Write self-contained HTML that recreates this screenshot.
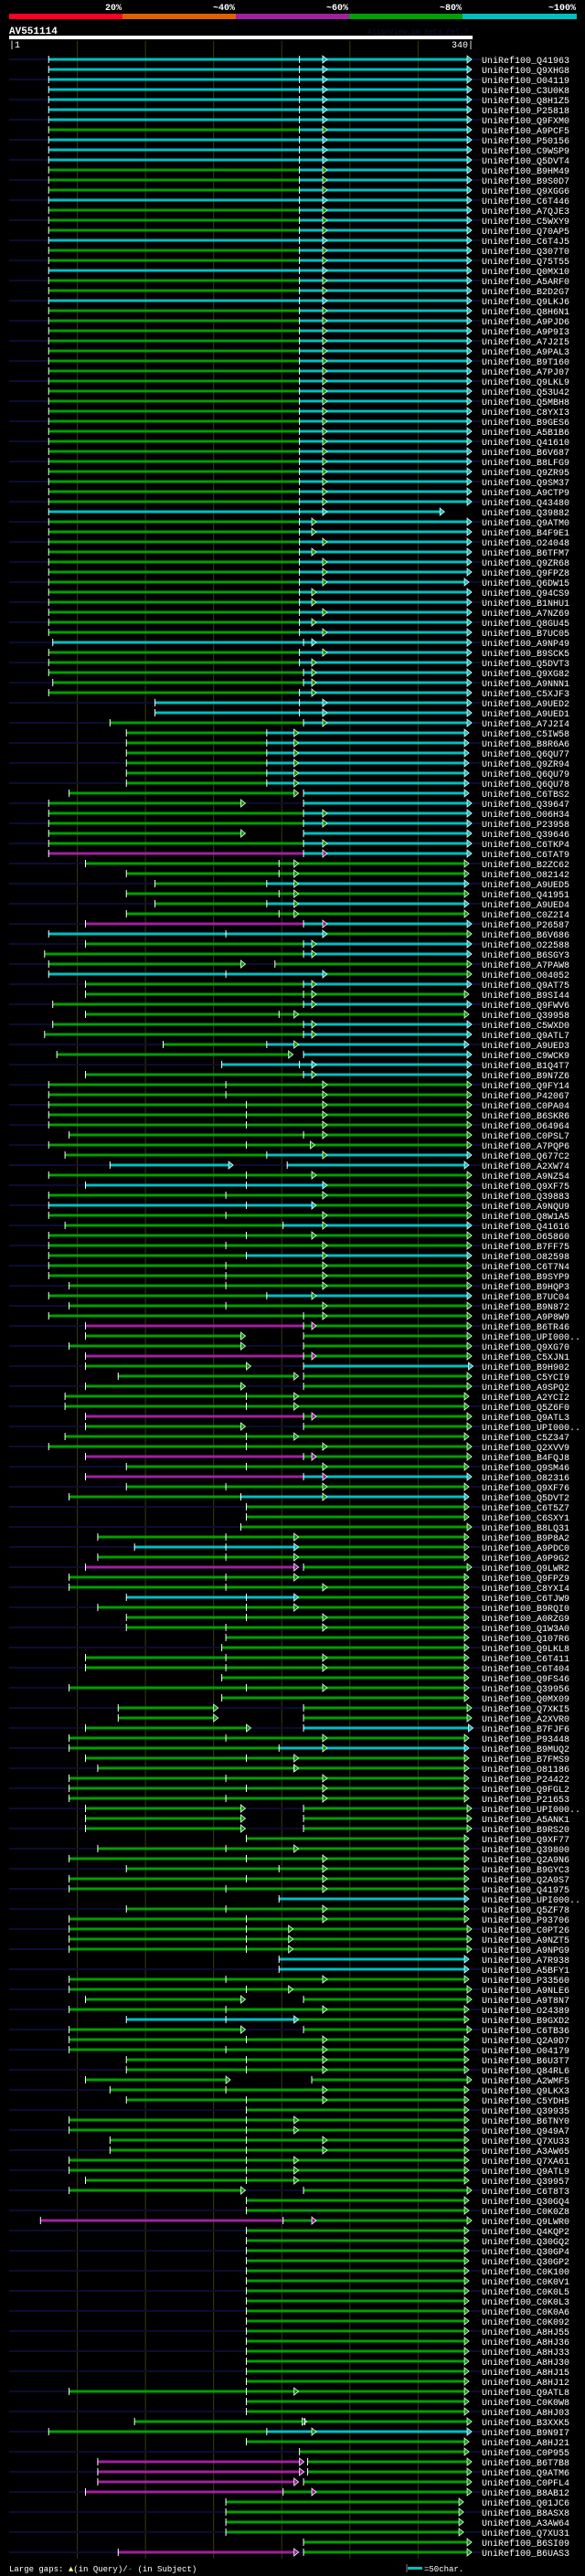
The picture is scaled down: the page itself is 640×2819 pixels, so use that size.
<!DOCTYPE html>
<html><head><meta charset="utf-8">
<style>
html,body{margin:0;padding:0;background:#000;}
svg{display:block;}
text{font-family:"Liberation Mono",monospace;}
</style></head>
<body>
<svg id="chart" width="640" height="2819" viewBox="0 0 640 2819" xmlns="http://www.w3.org/2000/svg">
<rect x="0" y="0" width="640" height="2819" fill="#000"/>
<g id="scale">
<rect x="10" y="15" width="124" height="6" fill="#ff0022"/>
<rect x="134" y="15" width="124" height="6" fill="#e06000"/>
<rect x="258" y="15" width="124" height="6" fill="#a020a0"/>
<rect x="382" y="15" width="124" height="6" fill="#00a000"/>
<rect x="506" y="15" width="125" height="6" fill="#00c0c0"/>
<text x="133" y="11" fill="#fff" font-size="10" font-weight="bold" text-anchor="end">20%</text>
<text x="257" y="11" fill="#fff" font-size="10" font-weight="bold" text-anchor="end">~40%</text>
<text x="381" y="11" fill="#fff" font-size="10" font-weight="bold" text-anchor="end">~60%</text>
<text x="505" y="11" fill="#fff" font-size="10" font-weight="bold" text-anchor="end">~80%</text>
<text x="630" y="11" fill="#fff" font-size="10" font-weight="bold" text-anchor="end">~100%</text>
</g>
<text x="10" y="37" fill="#fff" font-size="11" font-weight="bold">AV551114</text>
<text x="402" y="37" fill="#101040" font-size="8">AlignView.pm Beta rel.7</text>
<rect x="10" y="39" width="507" height="4" fill="#fff"/>
<text x="10" y="52" fill="#fff" font-size="10">|1</text>
<text x="518" y="52" fill="#fff" font-size="10" text-anchor="end">340|</text>
<g id="grid"></g>
<g id="rows"></g>
<text x="10" y="2814" fill="#fff" font-size="9">Large gaps: <tspan fill="#ffff80">▲</tspan>(in Query)/<tspan fill="#00c0c0">-</tspan> (in Subject)</text>
<line x1="445" y1="2806" x2="445" y2="2815" stroke="#808080" stroke-width="1"/>
<rect x="446" y="2809" width="16" height="3" fill="#00c0c0"/>
<text x="464" y="2814" fill="#fff" font-size="9">=50char.</text>
</svg>
<script>
const queryLength = 340;
const gridTicks = [50,100,150,200,250,300];
const labels = ["Q41963","Q9XHG8","O04119","C3U0K8","Q8H1Z5","P25818","Q9FXM0","A9PCF5","P50156","C9WSP9",
"Q5DVT4","B9HM49","B9S0D7","Q9XGG6","C6T446","A7QJE3","C5WXY9","Q70AP5","C6T4J5","Q307T0",
"Q75T55","Q0MX10","A5ARF0","B2D2G7","Q9LKJ6","Q8H6N1","A9PJD6","A9P9I3","A7J2I5","A9PAL3",
"B9T160","A7PJ07","Q9LKL9","Q53U42","Q5MBH8","C8YXI3","B9GES6","A5B1B6","Q41610","B6V687",
"B8LFG9","Q9ZR95","Q9SM37","A9CTP9","Q43480","Q39882","Q9ATM0","B4F9E1","O24048","B6TFM7",
"Q9ZR68","Q9FPZ8","Q6DW15","Q94CS9","B1NHU1","A7NZ69","Q8GU45","B7UC05","A9NP49","B9SCK5",
"Q5DVT3","Q9XG82","A9NNN1","C5XJF3","A9UED2","A9UED1","A7J2I4","C5IW58","B8R6A6","Q6QU77",
"Q9ZR94","Q6QU79","Q6QU78","C6TBS2","Q39647","O06H34","P23958","Q39646","C6TKP4","C6TAT9",
"B2ZC62","O82142","A9UED5","Q41951","A9UED4","C0Z2I4","P26587","B6V686","O22588","B6SGY3",
"A7PAW8","O04052","Q9AT75","B9SI44","Q9FWV6","Q39958","C5WXD0","Q9ATL7","A9UED3","C9WCK9",
"B1Q4T7","B9N7Z6","Q9FY14","P42067","C0PA04","B6SKR6","O64964","C0PSL7","A7PQP6","Q677C2",
"A2XW74","A9NZ54","Q9XF75","Q39883","A9NQU9","Q8W1A5","Q41616","O65860","B7FF75","O82598",
"C6T7N4","B9SYP9","B9HQP3","B7UC04","B9N872","A9P8W9","B6TR46","UPI000..","Q9XG70","C5XJN1",
"B9H902","C5YCI9","A9SPQ2","A2YCI2","Q5Z6F0","Q9ATL3","UPI000..","C5Z347","Q2XVV9","B4FQJ8",
"Q9SM46","O82316","Q9XF76","Q5DVT2","C6T5Z7","C6SXY1","B8LQ31","B9P8A2","A9PDC0","A9P9G2",
"Q9LWR2","Q9FPZ9","C8YXI4","C6TJW9","B9RQI0","A0RZG9","Q1W3A0","Q107R6","Q9LKL8","C6T411",
"C6T404","Q9FS46","Q39956","Q0MX09","Q7XKI5","A2XVR0","B7FJF6","P93448","B9MUQ2","B7FMS9",
"O81186","P24422","Q9FGL2","P21653","UPI000..","A5ANK1","B9RS20","Q9XF77","Q39800","Q2A9N6",
"B9GYC3","Q2A9S7","Q41975","UPI000..","Q5ZF78","P93706","C0PT26","A9NZT5","A9NPG9","A7R938",
"A5BFY1","P33560","A9NLE6","A9T8N7","O24389","B9GXD2","C6TB36","Q2A9D7","O04179","B6U3T7",
"Q84RL6","A2WMF5","Q9LKX3","C5YDH5","Q39935","B6TNY0","Q949A7","Q7XU33","A3AW65","Q7XA61",
"Q9ATL9","Q39957","C6T8T3","Q30GQ4","C0K0Z8","Q9LWR0","Q4KQP2","Q30GQ2","Q30GP4","Q30GP2",
"C0K100","C0K0V1","C0K0L5","C0K0L3","C0K0A6","C0K092","A8HJ55","A8HJ36","A8HJ33","A8HJ30",
"A8HJ15","A8HJ12","Q9ATL8","C0K0W8","A8HJ03","B3XXK5","B9N9I7","A8HJ21","C0P955","B6T7B8",
"Q9ATM6","C0PFL4","B8AB12","Q01JC6","B8ASX8","A3AW64","Q7XU31","B6SI09","B6UAS3"];
const hsps = [
"29 230 c,213 336 c","29 230 c,213 336 c","29 230 c,213 336 c","29 230 c,213 336 c","29 230 c,213 336 c",
"29 230 c,213 336 c","29 230 c,213 336 c","29 230 g,213 336 c","29 230 c,213 336 c","29 230 c,213 336 c",
"29 230 c,213 336 c","29 230 g,213 336 c","29 230 g,213 336 c","29 230 g,213 336 c","29 230 c,213 336 c",
"29 230 g,213 336 c","29 230 g,213 336 c","29 230 g,213 336 c","29 230 c,213 336 c","29 230 g,213 336 c",
"29 230 g,213 336 c","29 230 c,213 336 c","29 230 g,213 336 c","29 230 g,213 336 c","29 230 c,213 336 c",
"29 230 g,213 336 c","29 230 g,213 336 c","29 230 g,213 336 c","29 230 g,213 336 c","29 230 g,213 336 c",
"29 230 g,213 336 c","29 230 g,213 336 c","29 230 g,213 336 c","29 230 g,213 336 c","29 230 g,213 336 c",
"29 230 g,213 336 c","29 230 g,213 336 c","29 230 g,213 336 c","29 230 g,213 336 c","29 230 g,213 336 c",
"29 230 g,213 336 c","29 230 g,213 336 c","29 230 g,213 336 c","29 230 g,213 336 c","29 230 g,213 336 c",
"29 230 c,213 316 c","29 222 g,213 336 c","29 222 g,213 336 c","29 230 g,213 336 c","29 222 g,213 336 c",
"29 230 g,213 336 c","29 230 g,213 336 c","29 230 g,213 334 c","29 222 g,213 336 c","29 222 g,213 336 c",
"29 230 g,213 336 c","29 222 g,213 336 c","29 230 g,213 336 c","32 222 c,216 336 c","29 230 g,213 336 c",
"29 222 g,213 336 c","29 222 g,216 336 c","32 222 g,216 336 c","29 222 g,213 336 c","107 230 c,213 336 c",
"107 230 c,213 336 c","74 230 g,216 336 c","86 209 g,189 334 c","86 209 g,189 334 c","86 209 g,189 334 c",
"86 209 g,189 334 c","86 209 g,189 334 c","86 209 g,189 334 c","44 209 g,216 334 c","29 170 g,216 336 c",
"29 230 g,216 336 c","29 230 g,216 336 c","29 170 g,216 336 c","29 230 g,216 336 c","29 230 m,216 336 c",
"56 209 g,198 334 g","86 209 g,198 334 g","107 209 g,189 334 c","86 209 g,198 334 g","107 209 g,189 334 c",
"86 209 g,198 334 g","56 230 m,216 336 c","159 336 g,29 230 c","56 222 g,216 336 c","26 222 g,216 336 c",
"29 170 g,195 336 g","159 336 g,29 230 c","56 222 g,216 336 c","56 222 g,216 334 g","32 222 g,216 336 c",
"56 209 g,198 334 g","32 222 g,216 336 c","26 222 g,216 336 c","113 209 g,189 334 c","35 205 g,216 336 c",
"156 222 c,213 336 c","56 222 g,216 336 c","29 230 g,159 336 g","29 230 g,159 336 g","29 230 g,174 336 g",
"29 230 g,174 336 g","29 230 g,174 336 g","44 230 g,216 336 g","29 221 g,174 336 g","41 230 g,189 336 c",
"74 161 c,204 334 c","29 222 g,174 336 g","174 336 g,56 230 c","29 230 g,159 336 g","174 336 g,29 222 c",
"29 230 g,159 336 g","41 230 g,201 336 c","29 222 g,174 336 g","29 230 g,159 336 g","29 230 g,174 336 c",
"29 230 g,159 336 g","29 230 g,159 336 g","44 230 g,159 336 g","29 222 g,189 336 c","44 230 g,159 336 g",
"29 230 g,216 336 g","56 222 m,216 336 g","56 170 g,216 336 g","44 170 g,216 336 g","56 222 m,216 336 g",
"56 174 g,216 337 c","80 209 g,216 336 g","56 170 g,216 336 g","41 209 g,174 334 g","41 209 g,174 334 g",
"56 222 m,216 336 g","56 170 g,216 336 g","41 209 g,174 334 g","29 230 g,174 336 g","56 222 m,216 336 g",
"86 230 g,174 334 g","56 230 m,216 336 c","86 230 g,159 334 g","44 230 g,170 334 c","174 334 g",
"174 334 g","170 336 g","65 209 g,159 334 g","159 334 g,92 209 c","65 209 g,159 334 g",
"56 209 m,216 336 g","44 209 g,159 334 g","44 230 g,159 334 g","174 334 g,86 209 c","65 209 g,174 334 g",
"86 230 g,174 334 g","86 230 g,159 334 g","159 334 g","156 334 g","56 230 g,159 334 g",
"56 230 g,159 334 g","156 334 g","44 230 g,174 334 g","156 334 g","80 150 g,216 336 g",
"80 150 g,216 336 g","56 174 g,216 337 c","44 230 g,159 334 g","44 230 g,198 334 c","56 209 g,174 334 g",
"65 209 g,209 334 g","44 230 g,159 334 g","44 230 g,174 334 g","44 230 g,159 334 g","56 170 g,216 336 g",
"56 170 g,216 336 g","56 170 g,216 336 g","174 334 g","65 209 g,159 334 g","44 230 g,174 334 g",
"86 230 g,198 334 g","44 230 g,174 334 g","44 230 g,159 334 g","198 334 c","86 230 g,159 334 g",
"44 230 g,174 334 g","44 205 g,174 336 g","44 205 g,174 336 g","44 205 g,174 336 g","198 334 c",
"198 334 c","44 230 g,159 334 g","44 205 g,174 336 g","56 170 g,216 336 g","44 230 g,159 334 g",
"159 334 g,86 209 c","44 170 g,216 336 g","44 230 g,174 334 g","44 230 g,159 334 g","86 230 g,174 334 g",
"86 230 g,174 334 g","56 159 g,222 336 g","74 230 g,159 334 g","86 230 g,174 334 g","174 334 g",
"44 209 g,174 334 g","44 209 g,174 334 g","74 230 g,174 334 g","74 230 g,174 334 g","44 209 g,174 334 g",
"44 209 g,174 334 g","56 209 g,174 334 g","44 170 g,216 336 g","174 334 g","174 334 g",
"23 222 m,201 336 g","174 334 g","174 334 g","174 334 g","174 334 g",
"174 334 g","174 334 g","174 334 g","174 334 g","174 334 g",
"174 334 g","174 334 g","174 334 g","174 334 g","174 334 g",
"174 334 g","174 334 g","44 209 g,174 334 g","174 334 g","174 334 g",
"92 215 g,217 336 g","29 222 g,189 336 c","174 334 g","213 334 g","65 213 m,219 336 g",
"65 213 m,219 336 g","65 209 m,216 336 g","56 222 m,201 336 g","159 330 g","159 330 g",
"159 330 g","159 330 g","216 336 g","80 209 m,216 336 g"];
const colorMap = {c:"#00c0c0", g:"#00a000", m:"#a020a0"};

const NS = "http://www.w3.org/2000/svg";
const X0 = 10, X1 = 517;
function xScale(r){ return X0 + r*(X1-X0)/queryLength; }
function yRow(i){ return 65 + i*11; }
function mk(tag, attrs, parent){
  const el = document.createElementNS(NS, tag);
  for (const k in attrs) el.setAttribute(k, attrs[k]);
  parent.appendChild(el);
  return el;
}
const grid = document.getElementById('grid');
gridTicks.forEach(t => {
  const l = mk('line', {x1:xScale(t), x2:xScale(t), y1:45, y2:2800, stroke:'#3a3a12', 'stroke-width':1}, grid);
  
  
});
const rowsG = document.getElementById('rows');
labels.forEach((lab, i) => {
  const y = yRow(i);
  const g = mk('g', {}, rowsG);
  
  
  const segs = hsps[i].split(',').map(s => { const p = s.trim().split(' '); return {s:+p[0], e:+p[1], c:colorMap[p[2]]}; });
  if (i % 2 === 0) {
    const ctx = mk('rect', {x:X0, y:y-1, width:527-X0, height:2, fill:'#0c0c34'}, g);
    
    
  }
  segs.forEach(sg => {
    const b = mk('rect', {x:xScale(sg.s), y:y-1.5, width:xScale(sg.e)-xScale(sg.s), height:3, fill:sg.c}, g);
    
    
  });
  segs.forEach(sg => {
    const xs = xScale(sg.s), xe = xScale(sg.e);
    const t = mk('line', {x1:xs, x2:xs, y1:y-4, y2:y+4, stroke:'#fff', 'stroke-width':1}, g);
    
    
    const a = mk('polygon', {points:`${xe},${y-4} ${xe+5},${y} ${xe},${y+4}`, fill:sg.c, stroke:'#fff', 'stroke-width':0.8}, g);
    
    
  });
  const tx = mk('text', {x:527, y:y+4, fill:'#fff', 'font-size':10}, g);
  tx.textContent = 'UniRef100_' + lab;
  
  
});
</script>
</body></html>
